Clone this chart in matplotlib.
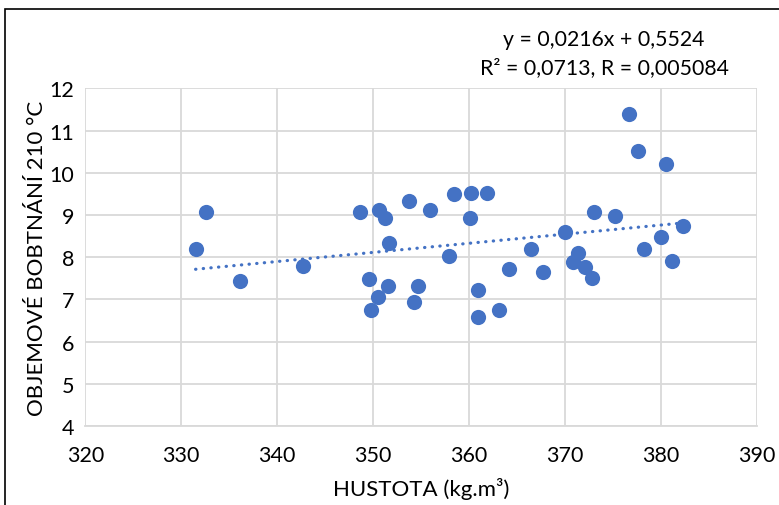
import matplotlib
matplotlib.use("Agg")
import matplotlib.pyplot as plt
import matplotlib.patches as patches
import numpy as np

plt.rcParams['font.family'] = ['Lato', 'DejaVu Sans']

hustota = [332.6, 331.5, 336.1, 342.7, 348.6, 350.6, 351.2, 351.7, 353.7, 355.9,
           358.4, 357.9, 349.6, 351.6, 350.5, 349.8, 354.7, 354.3,
           360.2, 361.9, 360.1, 366.5, 364.2, 367.7, 360.9, 360.9, 363.1,
           370.0, 371.4, 370.8, 372.1, 372.8, 373.0, 375.2, 376.7, 377.6,
           380.5, 378.2, 380.0, 381.2, 382.3]
bobtnani = [9.06, 8.19, 7.43, 7.80, 9.08, 9.12, 8.92, 8.33, 9.32, 9.12,
            9.49, 8.03, 7.49, 7.31, 7.05, 6.75, 7.32, 6.93,
            9.52, 9.52, 8.92, 8.19, 7.73, 7.65, 7.23, 6.58, 6.75,
            8.59, 8.10, 7.88, 7.76, 7.50, 9.08, 8.97, 11.40, 10.52,
            10.21, 8.19, 8.47, 7.90, 8.74]
trend_slope = 0.0216
trend_intercept = 0.5524
x_ticks = [320, 330, 340, 350, 360, 370, 380, 390]
y_ticks = [4, 5, 6, 7, 8, 9, 10, 11, 12]

color = '#4472C4'
W, H = 779, 506
fig = plt.figure(figsize=(W / 100, H / 100), dpi=100)
ax = fig.add_axes([85.3 / W, 1 - 427 / H, (756.7 - 85.3) / W, (427 - 89.3) / H])

ax.scatter(hustota, bobtnani, s=120, color=color, zorder=3, linewidths=0)
xt = np.array([min(hustota), max(hustota)])
ax.plot(xt, trend_slope * xt + trend_intercept, color=color, lw=2.3,
        linestyle=(0, (0.1, 2.3)), dash_capstyle='round', zorder=2)

ax.set_xlim(320, 390)
ax.set_ylim(4, 12)
ax.set_xticks(x_ticks)
ax.set_yticks(y_ticks)
ax.tick_params(axis='x', length=0, labelsize=15.5, colors='black', pad=14)
ax.tick_params(axis='y', length=0, labelsize=15.5, colors='black', pad=8)
ax.grid(True, color='#d9d9d9', lw=1.3)
ax.set_axisbelow(True)
for s in ax.spines.values():
    s.set_visible(False)
ax.spines['bottom'].set_visible(True)
ax.spines['bottom'].set_color('#d9d9d9')
ax.spines['bottom'].set_linewidth(1.3)

ax.set_xlabel('HUSTOTA (kg.m³)', fontsize=16, labelpad=8)
ax.set_ylabel('OBJEMOVÉ BOBTNÁNÍ 210 °C', fontsize=16, labelpad=2)

fig.text(604 / W, 1 - 40 / H, 'y = 0,0216x + 0,5524', ha='center', va='center', fontsize=15.3)
fig.text(604 / W, 1 - 68 / H, 'R² = 0,0713, R = 0,005084', ha='center', va='center', fontsize=15.3)

fig.patches.append(patches.Rectangle((5 / W, -0.1), 1.2, 1 - 10 / H + 0.1,
                                     transform=fig.transFigure, fill=False,
                                     edgecolor='black', lw=1.2))

fig.savefig('out.png', dpi=100)
